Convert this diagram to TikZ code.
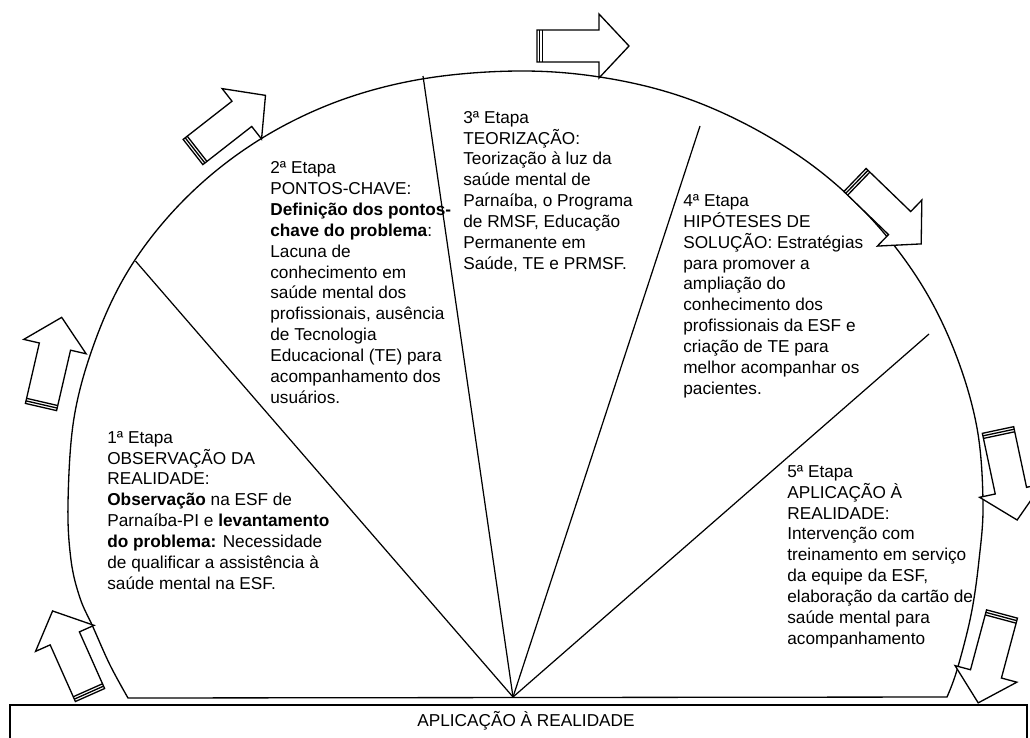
\documentclass[tikz,border=0pt]{standalone}
\usepackage{fontspec}
\setmainfont{Liberation Sans}
\tikzset{
  outline/.style  ={draw=black, line width=0.75pt},
  rayline/.style  ={draw=black, line width=0.7pt},
  stagetext/.style={font=\fontsize{9.8}{11.85}\selectfont, align=left,
                    inner sep=0pt, anchor=base west},
  stagearrow/.pic ={
    \draw[outline, fill=white] (0,16) -- (62,16) -- (62,32) -- (92,0)
      -- (62,-32) -- (62,-16) -- (0,-16) -- cycle;
    \draw[outline] (2.6,16) -- (2.6,-16);
    \draw[outline] (5.2,16) -- (5.2,-16);
  }
}

\begin{document}
\begin{tikzpicture}[x=0.02cm, y=-0.02cm]
  \useasboundingbox (0,0) rectangle (1030,737);

  % half disc split in five stages
  \coordinate (hub) at (513,697);
  \draw[outline] plot[smooth, tension=0.6] coordinates {
      (128,698) (110,665) (93,627) (80,598) (71,560) (68,503) (74,418)
      (94,344) (125,276) (168,217) (222,166) (285,125) (356,95) (435,77)
      (525,71) (606,78) (683,97) (755,129) (821,172) (877,225) (923,287)
      (956,355) (977,428) (983,503) (979,560) (971,615) (957,670)
      (947,697)} -- cycle;
  \coordinate (cut1) at (135.5,261);
  \coordinate (cut2) at (423,76);
  \coordinate (cut3) at (700,126);
  \coordinate (cut4) at (929,334);
  \foreach \c in {cut1,cut2,cut3,cut4}
    \draw[rayline] (hub) -- (\c);

  % striped arrows round the arc
  \pic[rotate=114] at (90,695) {stagearrow};
  \pic[rotate=77]  at (41,407) {stagearrow};
  \pic[rotate=38]  at (193,152) {stagearrow};
  \pic             at (537,46) {stagearrow};
  \pic[rotate=-44] at (855,180) {stagearrow};
  \pic[rotate=-78] at (998,430) {stagearrow};
  \pic[rotate=-105] at (1002,614) {stagearrow};

  % texts sit on the baseline of their last line
  \node[stagetext] (stage1) at (107,589) {1ª Etapa\\OBSERVAÇÃO DA\\REALIDADE:\\\textbf{Observação} na ESF de\\Parnaíba-PI e \textbf{levantamento}\\\textbf{do problema:} Necessidade\\de qualificar a assistência à\\saúde mental na ESF.};
  \node[stagetext] (stage2) at (270,403) {2ª Etapa\\PONTOS-CHAVE:\\\textbf{Definição dos pontos-}\\\textbf{chave do problema}:\\Lacuna de\\conhecimento em\\saúde mental dos\\profissionais, ausência\\de Tecnologia\\Educacional (TE) para\\acompanhamento dos\\usuários.};
  \node[stagetext] (stage3) at (463,269) {3ª Etapa\\TEORIZAÇÃO:\\Teorização à luz da\\saúde mental de\\Parnaíba, o Programa\\de RMSF, Educação\\Permanente em\\Saúde, TE e PRMSF.};
  \node[stagetext] (stage4) at (683,394) {4ª Etapa\\HIPÓTESES DE\\SOLUÇÃO: Estratégias\\para promover a\\ampliação do\\conhecimento dos\\profissionais da ESF e\\criação de TE para\\melhor acompanhar os\\pacientes.};
  \node[stagetext] (stage5) at (787,644) {5ª Etapa\\APLICAÇÃO À\\REALIDADE:\\Intervenção com\\treinamento em serviço\\da equipe da ESF,\\elaboração da cartão de\\saúde mental para\\acompanhamento};

  % bar under the half disc
  \draw[outline] (10,745) |- (1027,705) -- (1027,745);
  \node[stagetext, anchor=base] (applybar) at (526,726) {APLICAÇÃO À REALIDADE};
\end{tikzpicture}
\end{document}
